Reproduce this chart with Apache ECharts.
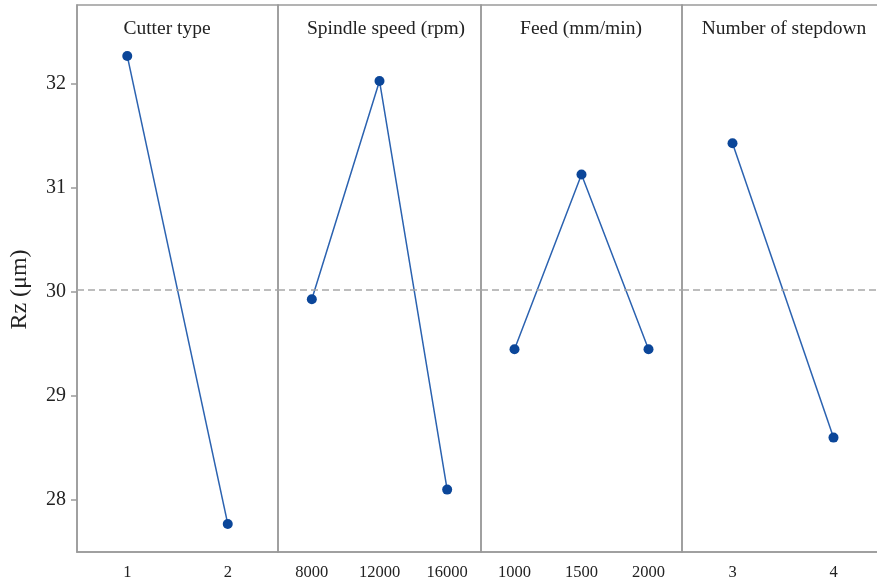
<!DOCTYPE html>
<html>
<head>
<meta charset="utf-8">
<script src="https://cdn.jsdelivr.net/npm/echarts@6/dist/echarts.min.js"></script>
<style>
  html, body { margin: 0; padding: 0; background: #fff; overflow: hidden; }
  /* the last panel runs past the right edge of the picture, as in the source figure */
  #chart { width: 890px; height: 582px; }
</style>
</head>
<body>
<div id="chart"></div>
<script>
// factor levels and mean Rz
const panelTitles = ['Cutter type', 'Spindle speed (rpm)', 'Feed (mm/min)', 'Number of stepdown'];
const cutterCats = ['1', '2'];
const cutterVals = [32.27, 27.77];
const spindleCats = ['8000', '12000', '16000'];
const spindleVals = [29.93, 32.03, 28.10];
const feedCats = ['1000', '1500', '2000'];
const feedVals = [29.45, 31.13, 29.45];
const stepCats = ['3', '4'];
const stepVals = [31.43, 28.60];
const grandMean = 30.02;
const yTicks = [28, 29, 30, 31, 32];

const cats = [cutterCats, spindleCats, feedCats, stepCats];
const vals = [cutterVals, spindleVals, feedVals, stepVals];

// panel layout (pixels)
const panelLeft = [77, 278, 481, 682];
const panelWidth = [201, 203, 201, 202];
const titleX = [167, 386, 581, 784];
const serif = '"Liberation Serif", "DejaVu Serif", serif';

const chart = echarts.init(document.getElementById('chart'));

const option = {
    animation: false,
    title: panelTitles.map((t, i) => ({
        text: t,
        left: titleX[i],
        top: 19,
        padding: 0,
        textAlign: 'center',
        textStyle: { fontFamily: serif, fontSize: 19.5, fontWeight: 'normal', color: '#222' }
    })),
    grid: panelLeft.map((l, i) => ({
        left: l,
        width: panelWidth[i],
        top: 5,
        height: 547,
        show: true,
        borderColor: '#9a9a9a',
        borderWidth: 1.5,
        backgroundColor: 'transparent'
    })),
    xAxis: cats.map((c, i) => ({
        type: 'category',
        gridIndex: i,
        data: c,
        boundaryGap: true,
        axisLine: { lineStyle: { color: '#9a9a9a', width: 1.5 } },
        axisTick: { alignWithLabel: true, length: 5, lineStyle: { color: '#9a9a9a', width: 1.5 } },
        axisLabel: { fontFamily: serif, fontSize: 16.5, color: '#222', margin: 12 }
    })),
    yAxis: cats.map((c, i) => ({
        type: 'value',
        gridIndex: i,
        min: 27.5,
        max: 32.76,
        show: i === 0,
        name: i === 0 ? 'Rz (μm)' : '',
        nameLocation: 'middle',
        nameGap: 45,
        nameTextStyle: { fontFamily: serif, fontSize: 24, color: '#222', padding: [0, 22, 0, 0] },
        splitLine: { show: false },
        axisLine: { show: true, lineStyle: { color: '#9a9a9a', width: 1.5 } },
        axisTick: { show: true, length: 6, customValues: yTicks, lineStyle: { color: '#9a9a9a', width: 1.5 } },
        axisLabel: { fontFamily: serif, fontSize: 20, color: '#222', margin: 11, customValues: yTicks }
    })),
    series: vals.map((v, i) => ({
        type: 'line',
        xAxisIndex: i,
        yAxisIndex: i,
        data: v,
        symbol: 'circle',
        symbolSize: 10,
        lineStyle: { color: '#2b62b0', width: 1.5 },
        itemStyle: { color: '#0b4699' },
        markLine: {
            silent: true,
            symbol: 'none',
            label: { show: false },
            lineStyle: { color: '#a8a8a8', type: [7, 4], width: 1.5 },
            data: [{ yAxis: grandMean }]
        }
    }))
};

chart.setOption(option);
</script>
</body>
</html>
